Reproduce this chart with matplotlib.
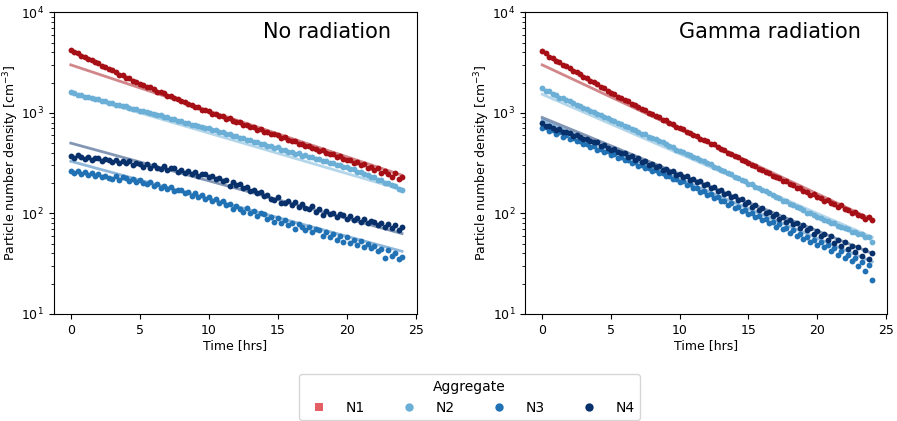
import numpy as np
import matplotlib.pyplot as plt
from matplotlib.lines import Line2D

# tempo de amostragem (a cada 15 min)
time = np.linspace(0, 24, 97)

names = ["N1", "N2", "N3", "N4"]
cores = ["#a50f15", "#6baed6", "#2171b5", "#08306b"]
cores_legenda = ["#e35f64", "#6baed6", "#2171b5", "#08306b"]

# ---- sem radiação ----
nr_n1 = [4180, 4010, 3920, 3700, 3610, 3420, 3360, 3200,
         3100, 2930, 2880, 2700, 2650, 2560, 2400, 2370,
         2230, 2200, 2060, 2040, 1930, 1900, 1800, 1790,
         1730, 1630, 1620, 1560, 1480, 1470, 1390, 1380,
         1300, 1290, 1220, 1210, 1150, 1140, 1070, 1060,
         1040, 980, 975, 925, 930, 875, 880, 830,
         805, 810, 760, 765, 720, 725, 680, 690,
         650, 645, 610, 615, 600, 560, 570, 535,
         525, 522, 490, 495, 470, 468, 445, 440,
         420, 425, 398, 390, 392, 365, 372, 346,
         340, 342, 320, 322, 300, 312, 285, 292,
         272, 280, 255, 266, 245, 232, 250, 218,
         230]
nr_n2 = [1610, 1560, 1510, 1510, 1450, 1450, 1400, 1370,
         1360, 1310, 1310, 1260, 1255, 1210, 1205, 1160,
         1160, 1120, 1095, 1090, 1050, 1050, 1010, 990,
         985, 950, 945, 905, 905, 870, 870, 835,
         830, 800, 800, 765, 765, 735, 730, 700,
         705, 680, 680, 645, 650, 615, 620, 590,
         590, 560, 565, 535, 540, 510, 515, 488,
         490, 465, 470, 445, 455, 430, 425, 410,
         412, 392, 395, 375, 378, 360, 362, 345,
         346, 330, 333, 316, 318, 305, 304, 290,
         292, 276, 276, 258, 258, 246, 242, 228,
         228, 216, 214, 202, 200, 190, 188, 175,
         172]
nr_n3 = [266, 250, 262, 246, 256, 240, 252, 236,
         245, 228, 238, 226, 222, 236, 214, 228,
         226, 210, 220, 206, 214, 200, 196, 204,
         188, 196, 180, 186, 174, 182, 166, 172,
         170, 158, 164, 150, 158, 146, 152, 138,
         146, 134, 138, 126, 132, 120, 124, 110,
         118, 110, 104, 112, 100, 106, 94, 100,
         98, 88, 92, 82, 90, 80, 86, 76,
         80, 70, 78, 74, 68, 74, 65, 70,
         69, 60, 66, 58, 62, 55, 60, 52,
         58, 51, 55, 48, 53, 46, 50, 45,
         47, 42, 44, 36, 43, 38, 40, 35,
         37]
nr_n4 = [372, 358, 380, 366, 348, 360, 337, 356,
         352, 330, 348, 341, 322, 338, 316, 330,
         315, 330, 305, 318, 312, 292, 309, 286,
         300, 286, 276, 295, 268, 282, 284, 258,
         270, 252, 262, 244, 256, 236, 248, 245,
         228, 236, 218, 224, 212, 216, 188, 206,
         192, 198, 178, 184, 168, 172, 158, 162,
         148, 154, 140, 136, 144, 128, 126, 134,
         122, 130, 116, 124, 113, 110, 118, 104,
         110, 96, 106, 98, 101, 92, 98, 96,
         88, 94, 86, 90, 83, 88, 80, 84,
         83, 76, 80, 74, 78, 72, 77, 68,
         74]

# ---- radiação gama ----
gr_n1 = [4100, 3900, 3620, 3540, 3300, 3220, 3000, 2950,
         2800, 2620, 2560, 2420, 2280, 2230, 2080, 2020,
         1920, 1810, 1760, 1640, 1580, 1540, 1440, 1410,
         1330, 1300, 1220, 1200, 1140, 1090, 1070, 1000,
         980, 930, 910, 850, 840, 790, 775, 720,
         710, 690, 650, 635, 600, 590, 555, 540,
         520, 495, 485, 455, 440, 425, 400, 392,
         370, 362, 338, 330, 318, 300, 296, 276,
         272, 256, 255, 236, 232, 224, 212, 210,
         196, 192, 178, 180, 168, 164, 152, 156,
         144, 142, 134, 135, 126, 124, 116, 120,
         110, 108, 102, 104, 97, 95, 89, 93,
         86]
gr_n2 = [1760, 1650, 1640, 1540, 1510, 1420, 1400, 1330,
         1300, 1250, 1200, 1180, 1130, 1100, 1040, 1020,
         985, 950, 910, 890, 850, 830, 790, 775,
         745, 720, 695, 670, 650, 620, 610, 580,
         565, 545, 520, 510, 490, 465, 455, 432,
         422, 405, 388, 380, 362, 352, 336, 330,
         315, 308, 290, 285, 272, 262, 250, 244,
         232, 226, 214, 208, 198, 194, 183, 180,
         170, 167, 158, 152, 147, 142, 134, 132,
         125, 120, 116, 112, 108, 102, 100, 96,
         92, 91, 86, 84, 81, 80, 75, 74,
         71, 70, 66, 65, 63, 62, 58, 58,
         52]
gr_n3 = [700, 720, 660, 680, 615, 640, 578, 600,
         552, 560, 520, 525, 492, 495, 462, 468,
         432, 440, 408, 414, 380, 388, 358, 362,
         340, 342, 318, 322, 298, 302, 280, 284,
         266, 268, 250, 252, 234, 236, 218, 222,
         206, 210, 192, 194, 178, 180, 164, 168,
         152, 156, 142, 144, 132, 134, 122, 126,
         112, 116, 106, 108, 98, 100, 92, 94,
         86, 88, 80, 82, 74, 78, 70, 72,
         64, 68, 60, 62, 56, 58, 52, 55,
         49, 52, 46, 48, 42, 45, 39, 42,
         36, 39, 34, 36, 30, 33, 27, 31,
         22]
gr_n4 = [790, 735, 748, 712, 680, 690, 648, 640,
         628, 592, 600, 570, 548, 548, 520, 512,
         508, 470, 480, 450, 432, 438, 405, 402,
         396, 368, 372, 342, 352, 328, 330, 305,
         310, 290, 296, 270, 278, 256, 264, 240,
         248, 230, 234, 214, 222, 204, 208, 190,
         196, 180, 184, 168, 172, 156, 160, 144,
         148, 136, 140, 124, 130, 116, 120, 108,
         112, 100, 104, 94, 98, 88, 92, 82,
         86, 78, 81, 72, 76, 68, 71, 63,
         67, 59, 63, 55, 59, 51, 55, 47,
         52, 44, 47, 41, 46, 38, 43, 35,
         40]

# ajuste exponencial: valor em t=0 e t=24
nr_fit_ini = [3000, 1590, 330, 500]
nr_fit_fim = [240, 172, 42, 63]
gr_fit_ini = [3000, 1530, 850, 900]
gr_fit_fim = [87, 58, 33, 40]

paineis = [
    ("No radiation", [nr_n1, nr_n2, nr_n3, nr_n4], nr_fit_ini, nr_fit_fim),
    ("Gamma radiation", [gr_n1, gr_n2, gr_n3, gr_n4], gr_fit_ini, gr_fit_fim),
]

fig = plt.figure(figsize=(8.97, 4.21), dpi=100)
posicoes = [[0.0597, 0.2542, 0.4047, 0.7166], [0.5853, 0.2542, 0.4032, 0.7166]]

for pos, (titulo, series, ini, fim) in zip(posicoes, paineis):
    ax = fig.add_axes(pos)
    for i in range(4):
        ax.plot([0, 24], [ini[i], fim[i]], color=cores[i], alpha=0.5, lw=2, zorder=1)
    for i in range(4):
        ax.plot(time, series[i], 'o', color=cores[i], ms=4.2, mew=0, zorder=2)
    ax.set_yscale('log')
    ax.set_ylim(10, 1e4)
    ax.set_xlim(-1.25, 25.05)
    ax.set_xticks([0, 5, 10, 15, 20, 25])
    ax.tick_params(labelsize=9)
    ax.set_xlabel("Time [hrs]", fontsize=9, labelpad=2)
    ax.set_ylabel("Particle number density [cm$^{-3}$]", fontsize=9)
    ax.yaxis.set_label_coords(-0.09, 0.5)
    ax.text(0.93, 0.935, titulo, transform=ax.transAxes, ha='right', va='center', fontsize=15)

handles = [Line2D([], [], ls='none', marker='s' if i == 0 else 'o', ms=6,
                  color=cores_legenda[i], mew=0) for i in range(4)]
fig.legend(handles, names, title="Aggregate", loc='upper center',
           bbox_to_anchor=(0.5236, 0.1116), borderaxespad=0, ncol=4,
           fontsize=10, title_fontsize=10, columnspacing=2.2, handletextpad=0.9)

fig.savefig("out.png", dpi=100)
